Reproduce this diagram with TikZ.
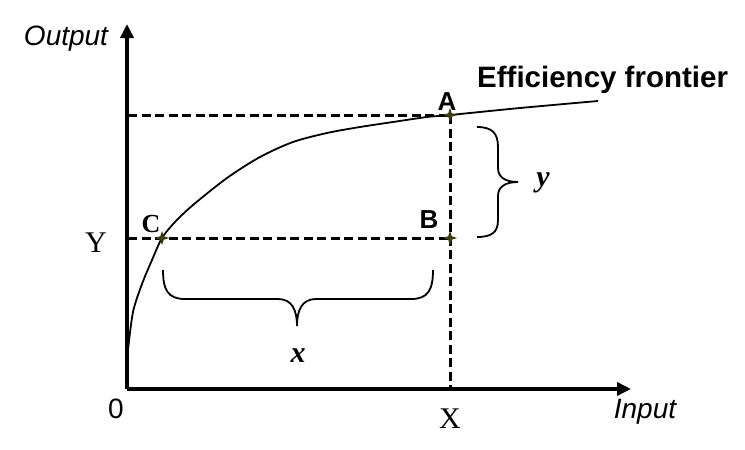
\documentclass[tikz,border=0pt]{standalone}
\usepackage{fontspec}
\setmainfont{Liberation Serif}
\setsansfont{Liberation Sans}
\usetikzlibrary{arrows.meta}
\definecolor{ptgreen}{RGB}{60,62,20}
\begin{document}
\begin{tikzpicture}[x=1pt,y=-1pt,
  axis/.style={line width=3.6pt,-{Triangle[length=14pt,width=13pt]}},
  guide/.style={line width=3pt,dash pattern=on 9pt off 4.5pt},
  frontier/.style={line width=1.8pt},
  bracepath/.style={line width=1.8pt},
  lbl/.style={inner sep=0pt,anchor=base},
  pics/ptstar/.style={code={\fill[ptgreen] (-7,0) -- (-1.8,-1.8) -- (0,-7) -- (1.8,-1.8) -- (7,0) -- (1.8,1.8) -- (0,7) -- (-1.8,1.8) -- cycle;}}]
\useasboundingbox (0,0) rectangle (745,450);
\fill[white] (0,0) rectangle (745,450);
% axes
\coordinate (O) at (127,389);
\coordinate (Ytop) at (127,24);
\coordinate (Xend) at (631,389);
\coordinate (ya) at (128,115);
\coordinate (yb) at (128,238);
\coordinate (xb) at (450,389);
\draw[axis] (O) -- (Ytop);
\draw[axis] (O) -- (Xend);
% guides
\coordinate (A) at (450,115);
\coordinate (B) at (450,238);
\coordinate (C) at (162,238);
\draw[guide] (ya) -- (A);
\draw[guide] (yb) -- (B);
\draw[guide] (A) -- (xb);
% frontier
\draw[frontier] plot[smooth] coordinates {(128,350) (133,312) (142,284) (152,260) (162,238) (175,222) (193,205) (227,178) (260,157) (293,142) (327,133) (360,127) (393,122) (427,117) (450,115) (520,108) (598,101)};
% points
\pic at (A) {ptstar};
\pic at (B) {ptstar};
\pic at (C) {ptstar};
% braces
\draw[bracepath] (163,270) .. controls (163,290) and (168,299) .. (185,299) -- (278,299) .. controls (292,299) and (297,310) .. (297,326) .. controls (297,310) and (302,299) .. (316,299) -- (411,299) .. controls (428,299) and (433,290) .. (433,270);
\draw[bracepath] (477,127) .. controls (492,127) and (498,133) .. (498,147) -- (498,168) .. controls (498,177) and (505,182) .. (518,182) .. controls (505,182) and (498,187) .. (498,196) -- (498,220) .. controls (498,232) and (492,237) .. (477,237);
% labels
\node[lbl,font=\sffamily\itshape\fontsize{28}{30}\selectfont] (outlbl) at (66,45) {Output};
\node[lbl,font=\sffamily\itshape\fontsize{28}{30}\selectfont] (inlbl) at (645,418) {Input};
\node[lbl,font=\sffamily\fontsize{28}{30}\selectfont] (zero) at (116,418) {0};
\node[lbl,font=\rmfamily\fontsize{30}{32}\selectfont] (Xlbl) at (450,428) {X};
\node[lbl,font=\rmfamily\fontsize{30}{32}\selectfont] (Ylbl) at (96,252) {Y};
\node[lbl,font=\sffamily\bfseries\fontsize{26}{28}\selectfont] (Albl) at (447,110) {A};
\node[lbl,font=\sffamily\bfseries\fontsize{26}{28}\selectfont] (Blbl) at (429,228) {B};
\node[lbl,font=\rmfamily\bfseries\fontsize{26}{28}\selectfont] (Clbl) at (151,232) {C};
\node[lbl,font=\rmfamily\bfseries\itshape\fontsize{30}{32}\selectfont] (ylbl) at (543,186) {y};
\node[lbl,font=\rmfamily\bfseries\itshape\fontsize{30}{32}\selectfont] (xlbl) at (298,362) {x};
\node[lbl,anchor=base west,font=\sffamily\bfseries\fontsize{29.5}{31}\selectfont] (eff) at (477,87) {Efficiency frontier};
\end{tikzpicture}
\end{document}
